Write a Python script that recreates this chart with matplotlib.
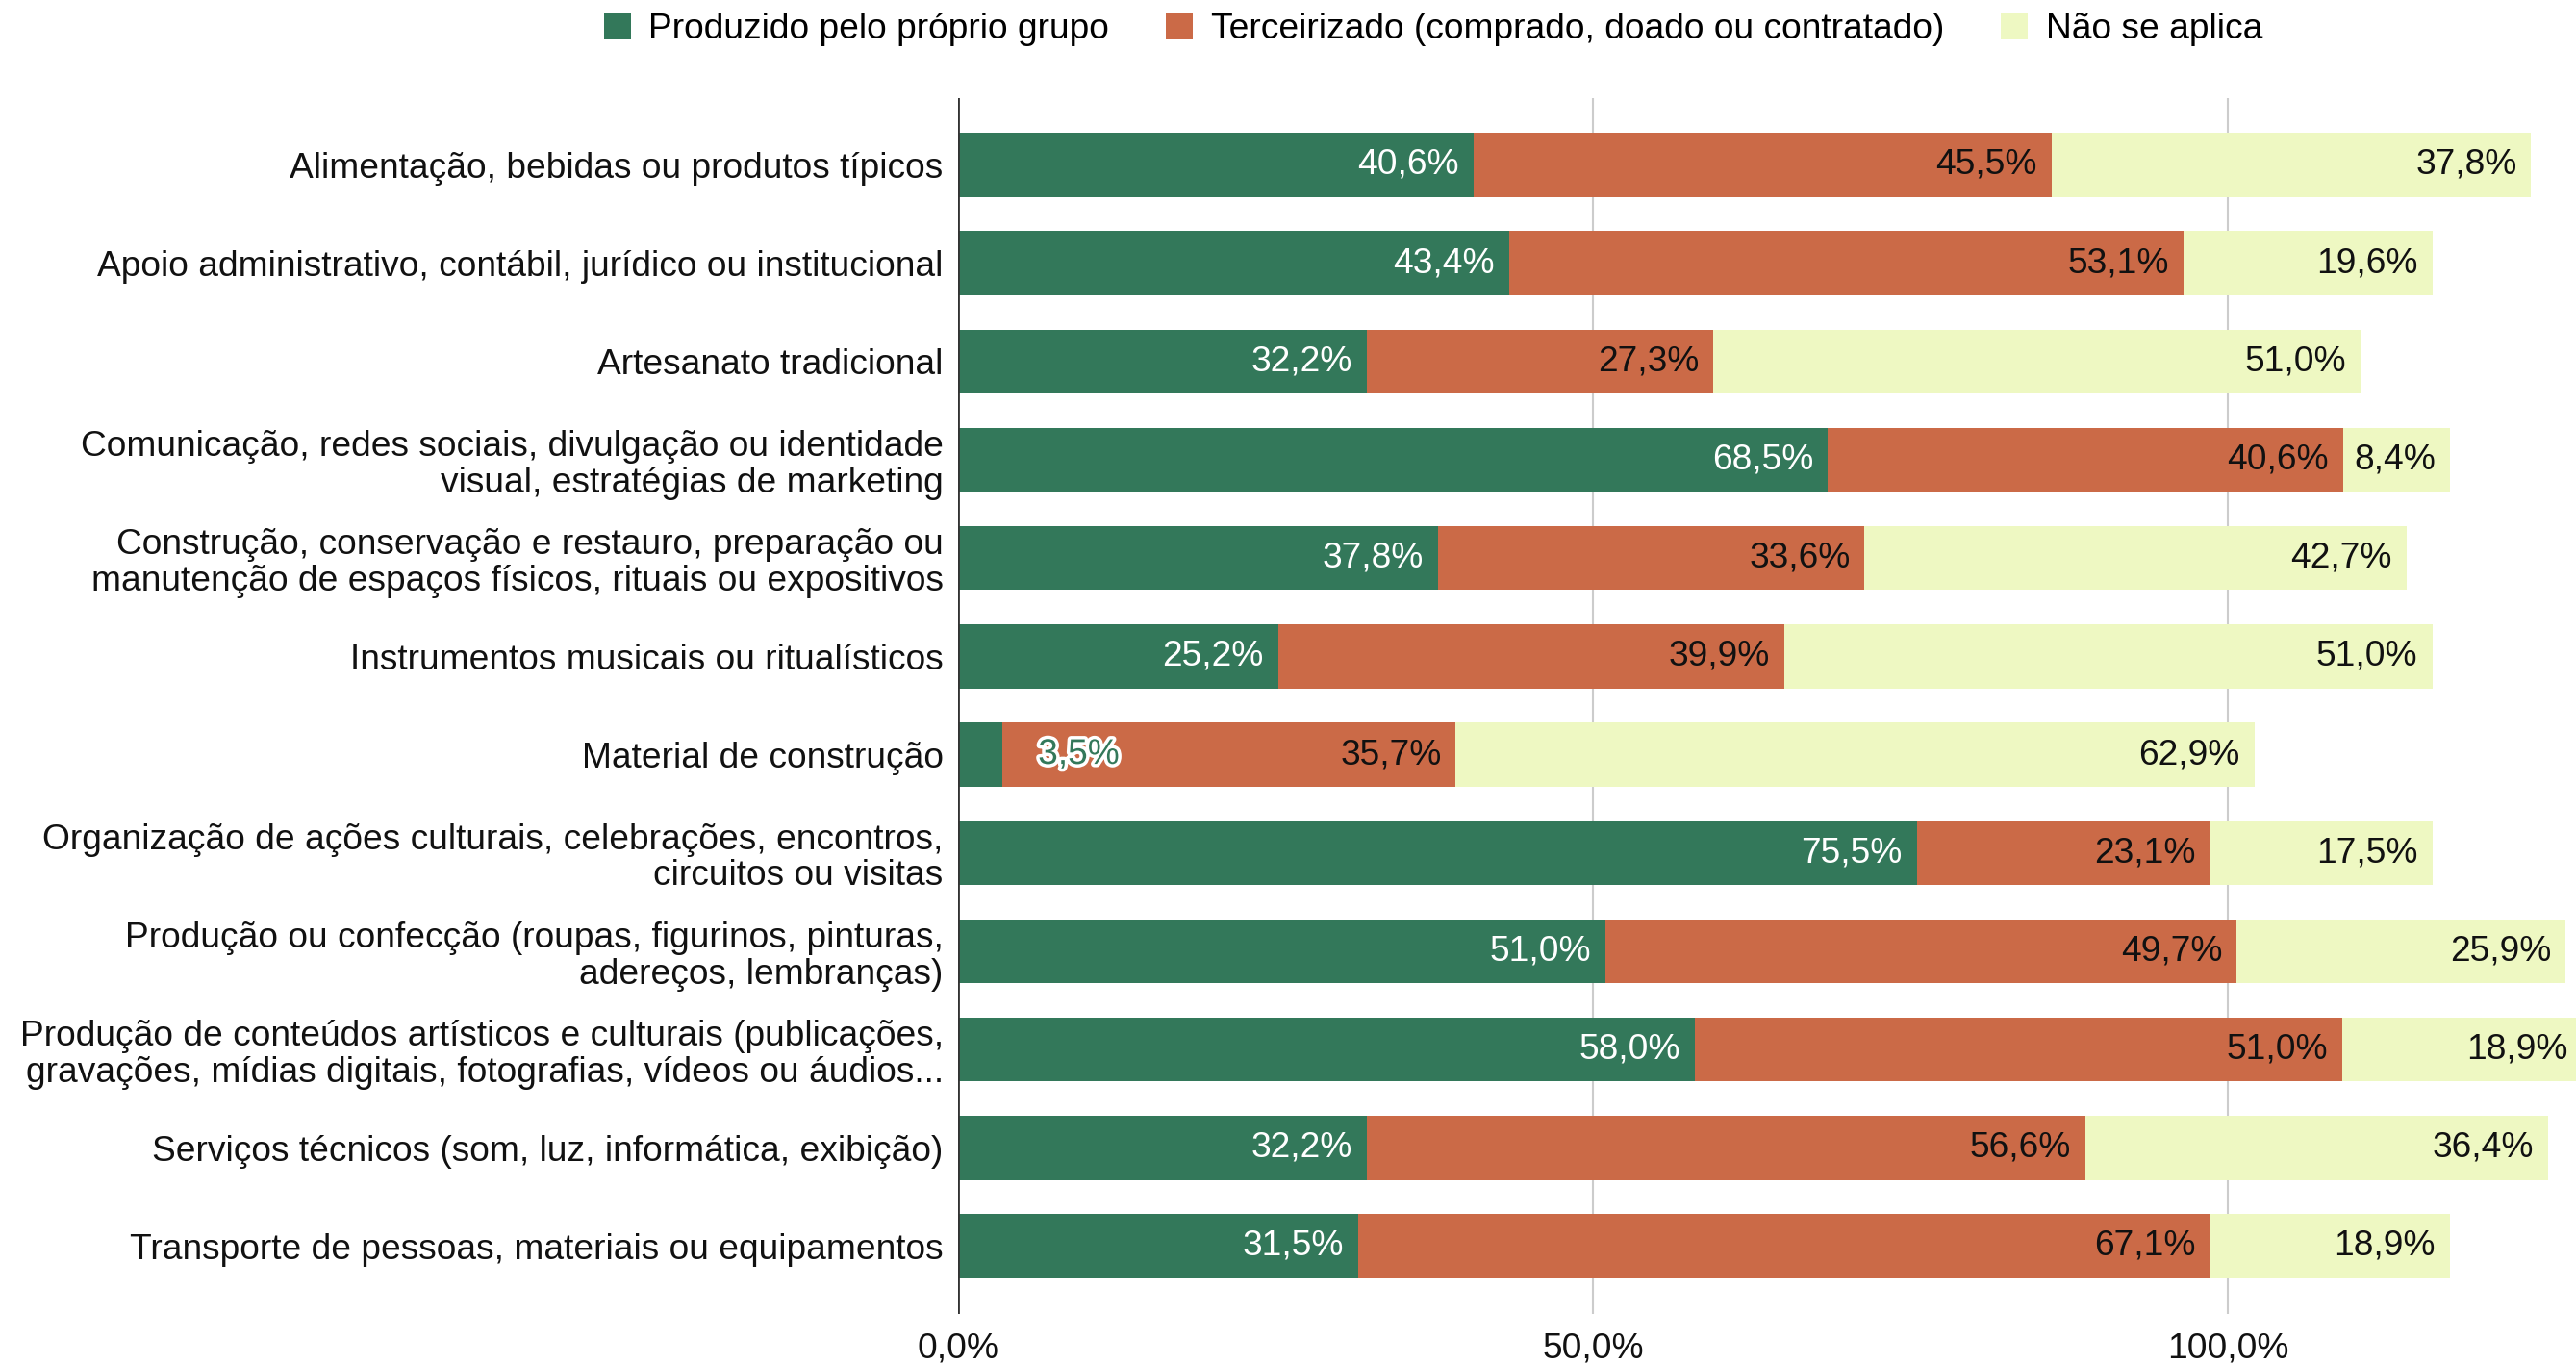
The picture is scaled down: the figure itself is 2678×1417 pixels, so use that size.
import matplotlib
matplotlib.use("Agg")
import matplotlib.pyplot as plt
import matplotlib.patheffects as pe
import numpy as np

categories = [
    "Alimentação, bebidas ou produtos típicos",
    "Apoio administrativo, contábil, jurídico ou institucional",
    "Artesanato tradicional",
    "Comunicação, redes sociais, divulgação ou identidade\nvisual, estratégias de marketing",
    "Construção, conservação e restauro, preparação ou\nmanutenção de espaços físicos, rituais ou expositivos",
    "Instrumentos musicais ou ritualísticos",
    "Material de construção",
    "Organização de ações culturais, celebrações, encontros,\ncircuitos ou visitas",
    "Produção ou confecção (roupas, figurinos, pinturas,\nadereços, lembranças)",
    "Produção de conteúdos artísticos e culturais (publicações,\ngravações, mídias digitais, fotografias, vídeos ou áudios...",
    "Serviços técnicos (som, luz, informática, exibição)",
    "Transporte de pessoas, materiais ou equipamentos",
]
produzido = [40.6, 43.4, 32.2, 68.5, 37.8, 25.2, 3.5, 75.5, 51.0, 58.0, 32.2, 31.5]
terceirizado = [45.5, 53.1, 27.3, 40.6, 33.6, 39.9, 35.7, 23.1, 49.7, 51.0, 56.6, 67.1]
nao_aplica = [37.8, 19.6, 51.0, 8.4, 42.7, 51.0, 62.9, 17.5, 25.9, 18.9, 36.4, 18.9]
series_names = ["Produzido pelo próprio grupo",
                "Terceirizado (comprado, doado ou contratado)",
                "Não se aplica"]
xticks = [0, 50, 100]
xtick_labels = ["0,0%", "50,0%", "100,0%"]

colors = ["#33785a", "#cb6a47", "#eef8c2"]
text_colors = ["white", "#111111", "#111111"]

plt.rcParams["font.family"] = ["Liberation Sans", "DejaVu Sans"]
FS = 26.7

fig = plt.figure(figsize=(26.78, 14.17), dpi=100)
W, H = 2678, 1417
ax = fig.add_axes([996 / W, 1 - 1366 / H, (W - 996) / W, (1366 - 102) / H])

y = np.arange(len(categories))
series = [produzido, terceirizado, nao_aplica]
left = np.zeros(len(categories))
bh = 0.65
for vals, c, tc, name in zip(series, colors, text_colors, series_names):
    vals = np.array(vals)
    ax.barh(y, vals, left=left, height=bh, color=c, label=name, zorder=3)
    for yi, (l, v) in enumerate(zip(left, vals)):
        s = f"{v:.1f}%".replace(".", ",")
        if v < 6:
            t = ax.annotate(s, xy=(l + v, yi), xytext=(37, 0), textcoords="offset pixels",
                            ha="left", va="center", fontsize=FS, color=c, zorder=5,
                            annotation_clip=False)
            t.set_path_effects([pe.withStroke(linewidth=5, foreground="white")])
        else:
            ax.annotate(s, xy=(l + v, yi), xytext=(-15, 0), textcoords="offset pixels",
                        ha="right", va="center", fontsize=FS, color=tc, zorder=5,
                        annotation_clip=False)
    left = left + vals

ax.set_xlim(0, (W - 996) / 13.2)
ax.set_ylim(11.69, -0.68)
ax.set_yticks(y)
ax.set_yticklabels(categories, fontsize=FS, color="#111111", linespacing=1.1)
ax.set_xticks(xticks)
ax.set_xticklabels(xtick_labels, fontsize=FS, color="#111111")
ax.tick_params(axis="both", length=0)
ax.tick_params(axis="y", pad=11)
ax.tick_params(axis="x", pad=13)
for sp in ax.spines.values():
    sp.set_visible(False)
ax.grid(axis="x", color="#cccccc", linewidth=1.5, zorder=0)
ax.axvline(0, color="#333333", linewidth=2, zorder=4)

handles, labels = ax.get_legend_handles_labels()
leg = fig.legend(handles, labels, loc="center", bbox_to_anchor=(1490 / W, 1 - 31 / H),
                 ncol=3, frameon=False, fontsize=FS, handlelength=0.75, handleheight=0.75,
                 handletextpad=0.5, columnspacing=1.6)

fig.savefig("out.png", dpi=100, facecolor="white")
